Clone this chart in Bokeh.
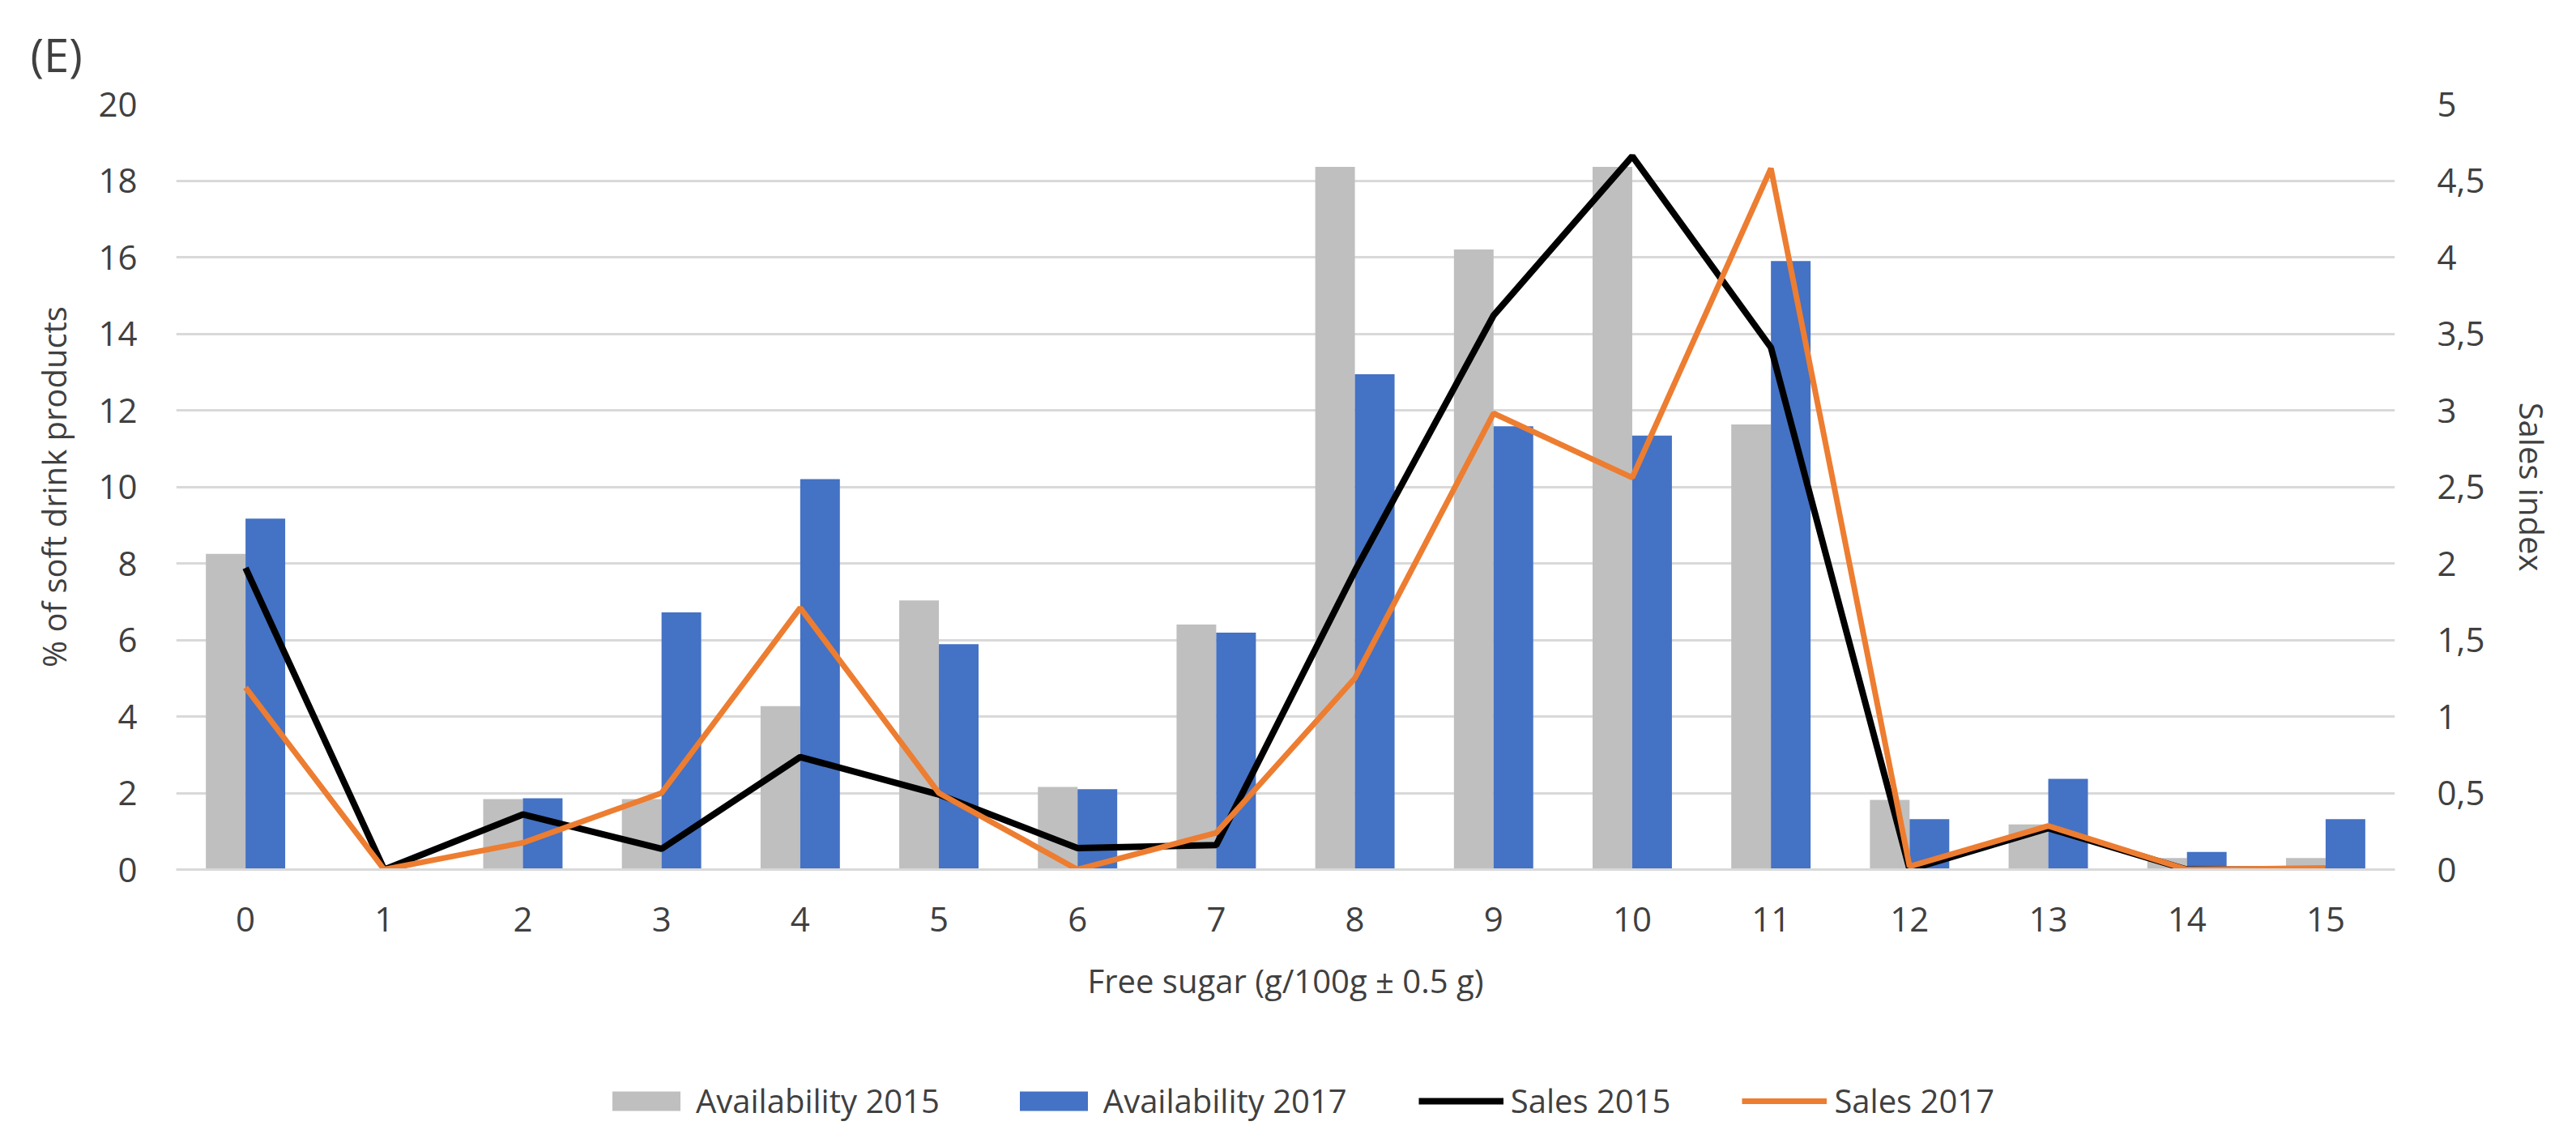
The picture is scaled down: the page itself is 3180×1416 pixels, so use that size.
from bokeh.plotting import figure
from bokeh.layouts import column
from bokeh.models import Range1d, LinearAxis, FixedTicker, Legend, LegendItem, ColumnDataSource
from bokeh.transform import dodge
from bokeh.embed import file_html
from bokeh.resources import INLINE

# ---------------- data ----------------
categories = list(range(16))
availability_2015 = [8.25, 0, 1.84, 1.84, 4.27, 7.03, 2.16, 6.4, 18.36, 16.2, 18.36, 11.63, 1.82, 1.18, 0.3, 0.3]
availability_2017 = [9.17, 0, 1.86, 6.72, 10.2, 5.89, 2.1, 6.19, 12.94, 11.58, 11.34, 15.9, 1.32, 2.37, 0.46, 1.32]
sales_2015 = [1.97, 0, 0.36, 0.135, 0.735, 0.49, 0.14, 0.16, 1.95, 3.62, 4.66, 3.41, 0, 0.27, 0, 0]
sales_2017 = [1.19, 0, 0.175, 0.5, 1.71, 0.5, 0, 0.24, 1.25, 2.98, 2.56, 4.58, 0.02, 0.285, 0, 0.01]
left_ticks = [0, 2, 4, 6, 8, 10, 12, 14, 16, 18, 20]
right_ticks = [0, 0.5, 1, 1.5, 2, 2.5, 3, 3.5, 4, 4.5, 5]
right_tick_labels = ["0", "0,5", "1", "1,5", "2", "2,5", "3", "3,5", "4", "4,5", "5"]
series_names = ["Availability 2015", "Availability 2017", "Sales 2015", "Sales 2017"]

FONT = "Open Sans"
TXT = "#404040"
GRAY = "#bfbfbf"
BLUE = "#4472c4"
BLACK = "#000000"
ORANGE = "#ed7d31"

src = ColumnDataSource(dict(cat=categories, a15=availability_2015, a17=availability_2017,
                            s15=sales_2015, s17=sales_2017))

p = figure(frame_width=2739, frame_height=945,
           min_border_left=217, min_border_right=208, min_border_top=128, min_border_bottom=217,
           x_range=Range1d(-0.5, 15.5), y_range=Range1d(0, 20),
           output_backend="svg", toolbar_location=None, tools="")
p.outline_line_color = None
p.background_fill_color = "white"
p.border_fill_color = "white"
p.extra_y_ranges = {"sales": Range1d(0, 5)}

# panel tag
p.title.text = "(E)"
p.title.align = "left"
p.title.offset = -180
p.title.text_font = FONT
p.title.text_font_size = "56px"
p.title.text_font_style = "normal"
p.title.text_color = TXT
p.title.standoff = 48

# grid
p.xgrid.visible = False
p.ygrid.ticker = FixedTicker(ticks=left_ticks)
p.ygrid.grid_line_color = "#d9d9d9"
p.ygrid.grid_line_width = 3

# bars
bw = 0.286
r15 = p.vbar(x=dodge("cat", -bw / 2, range=p.x_range), top="a15", width=bw, source=src,
             fill_color=GRAY, line_color=None)
r17 = p.vbar(x=dodge("cat", bw / 2, range=p.x_range), top="a17", width=bw, source=src,
             fill_color=BLUE, line_color=None)
# lines
l15 = p.line(x="cat", y="s15", source=src, y_range_name="sales", line_color=BLACK, line_width=8)
l17 = p.line(x="cat", y="s17", source=src, y_range_name="sales", line_color=ORANGE, line_width=7)

# axes
def style_axis(ax):
    ax.major_tick_line_color = None
    ax.minor_tick_line_color = None
    ax.major_label_text_font = FONT
    ax.major_label_text_font_size = "42px"
    ax.major_label_text_color = TXT
    ax.axis_label_text_font = FONT
    ax.axis_label_text_font_size = "40px"
    ax.axis_label_text_font_style = "normal"
    ax.axis_label_text_color = TXT

xa = p.xaxis[0]
xa.ticker = FixedTicker(ticks=categories)
xa.axis_label = "Free sugar (g/100g \u00b1 0.5 g)"
style_axis(xa)
xa.axis_line_color = "#d9d9d9"
xa.axis_line_width = 3
xa.major_label_standoff = 40
xa.axis_label_standoff = 30

ya = p.yaxis[0]
ya.ticker = FixedTicker(ticks=left_ticks)
ya.axis_label = "% of soft drink products"
style_axis(ya)
ya.axis_line_color = None
ya.major_label_standoff = 42
ya.axis_label_standoff = 24

ra = LinearAxis(y_range_name="sales", ticker=FixedTicker(ticks=right_ticks),
                major_label_overrides=dict(zip(right_ticks, right_tick_labels)),
                axis_label="Sales index")
style_axis(ra)
ra.axis_line_color = None
ra.major_label_standoff = 46
ra.axis_label_standoff = 28
p.add_layout(ra, "right")

# ---------------- legend strip under the chart ----------------
# The strip's ranges lie far from the data, so its glyphs stay hidden: they only feed the legend.
leg = figure(width=3164, height=110, min_border=0, x_range=Range1d(100, 101), y_range=Range1d(100, 101),
             x_axis_location=None, y_axis_location=None,
             output_backend="svg", toolbar_location=None, tools="")
leg.outline_line_color = None
leg.xgrid.visible = False
leg.ygrid.visible = False
k15 = leg.vbar(x="cat", top="a15", width=0.1, source=src, fill_color=GRAY, line_color=None)
k17 = leg.vbar(x="cat", top="a17", width=0.1, source=src, fill_color=BLUE, line_color=None)
m15 = leg.line(x="cat", y="s15", source=src, line_color=BLACK, line_width=8)
m17 = leg.line(x="cat", y="s17", source=src, line_color=ORANGE, line_width=7)
legend = Legend(items=[LegendItem(label=n, renderers=[r]) for n, r in zip(series_names, [k15, k17, m15, m17])],
                orientation="horizontal", location=(528, 14), margin=0,
                glyph_width=105, glyph_height=30, label_height=30,
                label_standoff=9, padding=0, spacing=88,
                border_line_color=None, background_fill_alpha=0,
                label_text_font=FONT, label_text_font_size="40px", label_text_color=TXT)
leg.add_layout(legend, "center")

open("out.html", "w").write(file_html(column(p, leg, spacing=0), INLINE))
